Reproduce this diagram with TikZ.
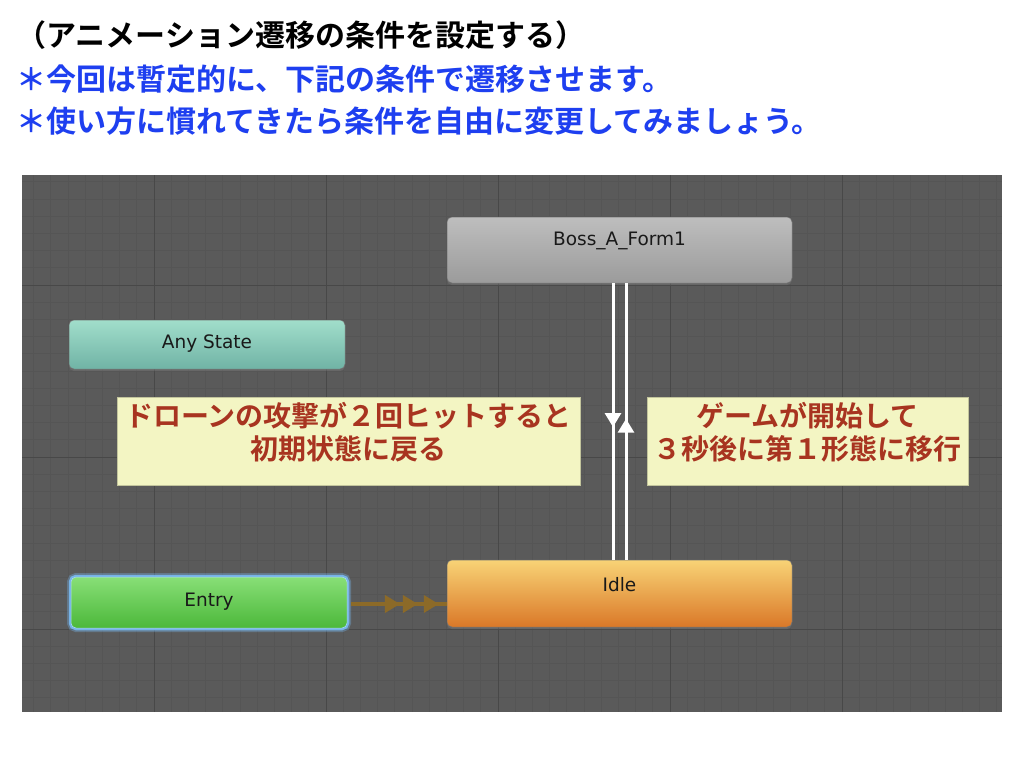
\documentclass[tikz,border=0pt]{standalone}
\usepackage{fontspec}
\setsansfont{DejaVu Sans}
\newfontfamily\jp{Noto Sans CJK JP}[BoldFont={Noto Sans CJK JP Bold}]
\usetikzlibrary{arrows.meta,decorations.markings,shadows}
\definecolor{bgc}{HTML}{5A5A5A}
\definecolor{minorc}{HTML}{555555}
\definecolor{majorc}{HTML}{484848}
\definecolor{bossT}{HTML}{BEBEBE}
\definecolor{bossB}{HTML}{9B9B9B}
\definecolor{anyT}{HTML}{A1DECB}
\definecolor{anyB}{HTML}{70B3A5}
\definecolor{entT}{HTML}{88DF77}
\definecolor{entB}{HTML}{4CB83A}
\definecolor{glowc}{HTML}{7CC2FF}
\definecolor{idleT}{HTML}{F8D376}
\definecolor{idleB}{HTML}{DA7828}
\definecolor{notefill}{HTML}{F3F5C3}
\definecolor{notetext}{HTML}{A83420}
\definecolor{arrowc}{HTML}{8C6A28}
\definecolor{titleblue}{HTML}{1E3FF0}
\tikzset{
  statebox/.style={rounded corners=5pt, draw=black!55, line width=0.5pt, inner sep=0pt,
    drop shadow={shadow xshift=0pt, shadow yshift=-2pt, opacity=0.35}},
  lbl/.style={font=\sffamily\fontsize{18.5}{21}\selectfont, text=black!90},
  notebox/.style={fill=notefill, draw=notefill!80!black, line width=0.4pt, inner sep=0pt},
  notetxt/.style={font=\jp\bfseries\fontsize{28}{32}\selectfont, text=notetext, inner sep=0pt, anchor=base},
  titletxt/.style={font=\jp\bfseries\fontsize{30}{34}\selectfont, inner sep=0pt, anchor=base west},
  trans/.style={draw=white, line width=3pt, postaction={decorate}},
  entrans/.style={draw=arrowc, line width=3.5pt, postaction={decorate},
    decoration={markings,
      mark=at position 0.53 with {\arrow[arrowc]{Triangle[width=17pt,length=15pt]}},
      mark=at position 0.71 with {\arrow[arrowc]{Triangle[width=17pt,length=15pt]}},
      mark=at position 0.92 with {\arrow[arrowc]{Triangle[width=17pt,length=15pt]}}}}
}
\begin{document}
\begin{tikzpicture}[x=1pt,y=-1pt]
\useasboundingbox (0,0) rectangle (1024,768);
\fill[white] (0,0) rectangle (1024,768);
% title lines
\node[titletxt, text=black] (t1) at (16,47) {（アニメーション遷移の条件を設定する）};
\node[titletxt, text=titleblue] (t2) at (16,90) {＊今回は暫定的に、下記の条件で遷移させます。};
\node[titletxt, text=titleblue] (t3) at (16,132) {＊使い方に慣れてきたら条件を自由に変更してみましょう。};
% background grid
\fill[bgc] (22,175) rectangle (1002,712);
\begin{scope}
\clip (22,175) rectangle (1002,712);
\foreach \i in {0,...,57} \draw[minorc, line width=0.7pt] ({33.6+17.2*\i},175) -- ++(0,537);
\foreach \j in {-1,...,31} \draw[minorc, line width=0.7pt] (22,{181.8+17.2*\j}) -- ++(980,0);
\foreach \i in {-1,...,5} \draw[majorc, line width=1pt] ({154+172*\i},175) -- ++(0,537);
\foreach \j in {-1,...,3} \draw[majorc, line width=1pt] (22,{285+172*\j}) -- ++(980,0);
\end{scope}
% states
\node[statebox, top color=bossT, bottom color=bossB, minimum width=345, minimum height=66,
  label={[lbl, yshift=9pt]center:Boss\_A\_Form1}] (boss) at (619.5,250) {};
\node[statebox, top color=anyT, bottom color=anyB, minimum width=276, minimum height=49,
  label={[lbl, yshift=0.5pt]center:Any State}] (any) at (207,344.5) {};
\node[statebox, top color=entT, bottom color=entB, minimum width=276, minimum height=51,
  draw=glowc!60!white,
  preaction={draw=glowc, line width=8pt, opacity=0.3},
  preaction={draw=glowc, line width=4.5pt, opacity=0.8},
  label={[lbl, yshift=0.5pt]center:Entry}] (entry) at (209,602.5) {};
\node[statebox, top color=idleT, bottom color=idleB, minimum width=345, minimum height=67,
  label={[lbl, yshift=8.5pt]center:Idle}] (idle) at (619.5,593.5) {};
% notes
\node[notebox, minimum width=463, minimum height=88] (n1) at (348.5,441) {};
\node[notebox, minimum width=321, minimum height=88] (n2) at (807.5,441) {};
\node[notetxt] (n1a) at (348.5,426) {ドローンの攻撃が２回ヒットすると};
\node[notetxt] (n1b) at (348.5,459) {初期状態に戻る};
\node[notetxt] (n2a) at (807.5,426) {ゲームが開始して};
\node[notetxt] (n2b) at (807.5,459) {３秒後に第１形態に移行};
% transitions
\draw[trans, decoration={markings, mark=at position 0.52 with {\arrow[white]{Triangle[width=16pt,length=14pt]}}}]
  ([xshift=-6.5pt]boss.south) -- ([xshift=-6.5pt]boss.south |- idle.north);
\draw[trans, decoration={markings, mark=at position 0.51 with {\arrow[white]{Triangle[width=16pt,length=14pt]}}}]
  ([xshift=6.5pt]boss.south |- idle.north) -- ([xshift=6.5pt]boss.south);
\draw[entrans, shorten <=4pt] ([yshift=-1.5pt]entry.east) -- ([yshift=-1.5pt]entry.east -| idle.west);
\end{tikzpicture}
\end{document}
